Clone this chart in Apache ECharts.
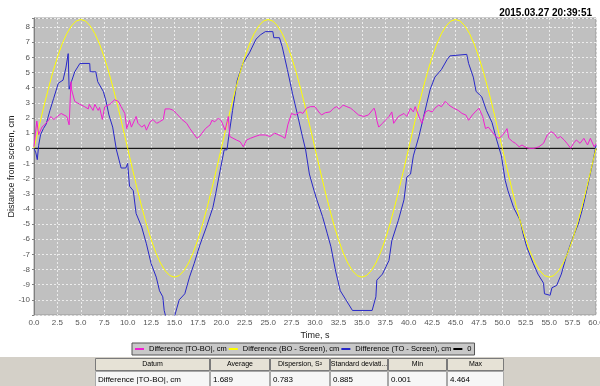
<!DOCTYPE html>
<html>
<head>
<meta charset="utf-8">
<script src="https://cdn.jsdelivr.net/npm/echarts@6/dist/echarts.min.js"></script>
<style>
html,body{margin:0;padding:0;background:#fff;}
#chart{width:600px;height:386px;}
</style>
</head>
<body>
<div id="chart"></div>
<script>
// ---- data ----
const titleText = '2015.03.27 20:39:51';
const seriesNames = ['Difference |TO-BO|, cm', 'Difference (BO - Screen), cm', 'Difference (TO - Screen), cm', '0'];

// Difference (BO - Screen): sampled every 0.5 s
const yellowStep = 0.5;
const yellowValues = [
  0,1.33,2.63,3.86,5.00,6.01,6.88,7.57,8.08,8.40,8.50,8.40,8.08,7.57,6.88,6.01,5.00,3.86,2.63,1.33,0,
  -1.33,-2.63,-3.86,-5.00,-6.01,-6.88,-7.57,-8.08,-8.40,-8.50,-8.40,-8.08,-7.57,-6.88,-6.01,-5.00,-3.86,-2.63,-1.33,0,
  1.33,2.63,3.86,5.00,6.01,6.88,7.57,8.08,8.40,8.50,8.40,8.08,7.57,6.88,6.01,5.00,3.86,2.63,1.33,0,
  -1.33,-2.63,-3.86,-5.00,-6.01,-6.88,-7.57,-8.08,-8.40,-8.50,-8.40,-8.08,-7.57,-6.88,-6.01,-5.00,-3.86,-2.63,-1.33,0,
  1.33,2.63,3.86,5.00,6.01,6.88,7.57,8.08,8.40,8.50,8.40,8.08,7.57,6.88,6.01,5.00,3.86,2.63,1.33,0,
  -1.33,-2.63,-3.86,-5.00,-6.01,-6.88,-7.57,-8.08,-8.40,-8.50,-8.40,-8.08,-7.57,-6.88,-6.01,-5.00,-3.86,-2.63,-1.33,0
];

// Difference (TO - Screen): [time s, cm]
const blueData = [
  [0,0.0],[0.2,-0.3],[0.35,-0.75],[0.5,0.2],[0.7,0.9],[1.0,1.3],[1.3,1.6],[1.7,2.5],[2.1,3.3],[2.6,4.3],[3.1,4.5],[3.4,5.3],[3.65,6.25],
  [3.75,3.9],[4.0,4.4],[4.35,5.05],[4.9,5.6],[5.95,5.6],[6.0,5.05],[6.6,5.05],[6.8,4.4],[7.4,3.75],[7.7,3.1],[8.0,2.2],[8.4,1.4],
  [8.8,-0.1],[9.3,-1.3],[9.8,-1.3],[10.0,-1.0],[10.2,-2.5],[10.6,-2.8],[10.9,-4.3],[11.5,-5.2],[12.0,-6.3],[12.5,-7.6],[13.05,-8.5],
  [13.4,-9.4],[13.75,-9.8],[13.9,-10.7],[14.1,-11.2],[14.5,-11.5],[15.0,-11.1],[15.5,-10.0],[16.1,-9.6],[16.6,-8.5],[17.1,-7.6],
  [17.7,-6.4],[18.4,-5.2],[19.1,-3.9],[19.4,-3.0],[19.8,-1.7],[20.3,-0.1],[20.6,-0.1],[20.8,0.8],[21.2,2.5],[21.7,4.5],[22.3,5.6],
  [23.0,6.3],[23.7,7.2],[24.2,7.5],[24.7,7.7],[25.5,7.7],[25.6,7.3],[26.2,7.3],[26.5,6.7],[27.05,5.2],[27.6,3.6],[28.1,2.3],
  [28.65,0.8],[29.0,-0.1],[29.4,-1.7],[29.9,-2.8],[30.2,-3.4],[30.8,-4.5],[31.3,-5.6],[31.7,-6.5],[32.2,-8.1],[32.7,-9.4],
  [33.3,-10.0],[34.0,-10.7],[36.1,-10.7],[36.5,-9.8],[36.6,-8.7],[37.2,-8.3],[37.9,-7.4],[38.2,-6.1],[38.9,-4.75],[39.5,-3.4],
  [39.8,-1.9],[40.2,-1.7],[40.5,-0.5],[41.1,0.8],[41.6,2.1],[42.3,3.9],[42.8,4.7],[43.5,5.2],[44.1,5.85],[44.4,6.1],[46.2,6.2],
  [46.4,5.6],[46.9,4.7],[47.2,3.75],[47.8,3.4],[48.3,2.5],[48.9,1.7],[49.4,0.55],[49.9,-0.5],[50.3,-2.1],[50.6,-2.8],[51.2,-3.9],
  [51.9,-4.75],[52.2,-5.6],[52.6,-6.5],[53.3,-7.6],[53.8,-8.3],[54.4,-8.9],[54.5,-9.6],[55.1,-9.7],[55.3,-9.2],[55.8,-9.05],
  [56.3,-8.3],[56.8,-7.2],[57.4,-6.1],[58.1,-5.0],[58.6,-3.9],[59.1,-2.5],[59.7,-0.8],[60.0,0.2]
];

// Difference |TO-BO|: [time s, cm]
const pinkData = [
  [0,0.1],[0.15,1.0],[0.3,1.8],[0.5,0.9],[0.85,1.4],[1.2,1.6],[1.56,1.85],[1.8,2.1],[2.1,1.9],[2.5,2.1],[2.9,2.3],[3.2,2.2],[3.5,2.1],
  [3.75,1.55],[3.85,1.6],[3.95,4.4],[4.0,3.9],[4.35,3.1],[4.9,2.9],[5.4,2.75],[5.8,2.6],[5.9,2.9],[6.3,2.5],[6.5,2.9],[6.85,2.5],
  [7.0,2.7],[7.3,1.9],[7.55,2.75],[8.1,2.9],[8.6,3.2],[9.0,3.1],[9.3,2.75],[9.7,2.3],[9.9,1.3],[10.2,1.85],[10.4,1.4],[10.9,2.1],
  [11.1,1.65],[11.5,1.4],[11.8,1.55],[12.0,1.2],[12.4,1.75],[12.7,1.9],[13.1,1.65],[13.4,1.75],[13.8,1.9],[14.0,2.6],[14.5,2.6],
  [14.9,2.5],[15.2,2.3],[15.8,1.9],[16.3,1.65],[16.65,1.3],[17.0,1.0],[17.4,0.66],[17.7,0.8],[18.3,1.3],[18.8,1.55],[19.0,1.85],
  [19.3,1.75],[19.7,2.0],[20.0,1.8],[20.4,1.2],[20.75,2.1],[20.9,0.78],[21.1,0.66],[21.6,0.55],[22.0,0.44],[22.35,0.1],[22.7,0.55],
  [23.1,0.66],[23.6,0.78],[24.1,0.88],[24.7,0.88],[25.2,0.78],[25.7,1.0],[26.5,0.78],[26.8,0.66],[27.1,1.55],[27.5,2.3],[27.9,2.2],
  [28.4,2.4],[28.7,2.3],[29.1,2.65],[29.5,2.75],[30.0,2.75],[30.4,2.4],[30.7,2.2],[31.1,2.35],[31.6,2.4],[32.0,2.65],[32.3,2.75],
  [32.6,2.6],[33.0,2.85],[33.4,2.75],[33.8,2.65],[34.1,2.5],[34.65,2.2],[35.2,2.1],[35.7,2.2],[36.3,2.65],[36.45,2.4],[36.6,1.85],
  [36.8,1.4],[37.2,1.65],[37.5,1.85],[37.9,2.1],[38.2,2.4],[38.4,1.65],[38.6,1.55],[38.9,2.1],[39.1,2.1],[39.5,2.3],[39.8,2.1],
  [40.2,2.65],[40.5,2.4],[40.7,2.75],[41.1,2.1],[41.4,1.65],[41.8,2.4],[42.1,2.5],[42.5,2.4],[42.8,2.65],[43.2,2.85],[43.5,2.75],
  [43.9,3.1],[44.1,3.2],[44.3,2.85],[44.5,2.95],[44.8,2.65],[45.3,2.5],[45.7,2.3],[46.1,2.2],[46.4,1.85],[46.8,2.2],[47.1,2.4],
  [47.5,2.65],[47.9,2.1],[48.2,1.3],[48.5,1.4],[48.9,1.1],[49.3,0.78],[49.6,0.66],[49.9,0.78],[50.3,1.1],[50.5,1.3],[50.7,0.66],
  [51.1,0.44],[51.4,0.33],[51.8,0.1],[52.1,0.22],[52.4,0.1],[52.8,0.0],[53.4,0.0],[53.9,0.1],[54.4,0.33],[54.8,0.88],[55.2,1.1],
  [55.5,1.0],[55.9,0.66],[56.2,0.78],[56.6,0.55],[56.9,0.33],[57.3,0.0],[57.6,0.33],[57.9,0.55],[58.3,0.33],[58.7,0.66],[59.1,0.22],
  [59.4,0.66],[59.8,0.1],[60.0,0.3]
];

const zeroData = [[0,0],[60,0]];

// statistics table
const tableHeaders = ['Datum', 'Average', 'Dispersion, S\u00B2', 'Standard deviati...', 'Min', 'Max'];
const tableRow = ['Difference |TO-BO|, cm', '1.689', '0.783', '0.885', '0.001', '4.464'];

// ---- chart ----
const FONT = 'Liberation Sans';
const yellowData = yellowValues.map((v, i) => [i * yellowStep, v]);
const colors = ['#f020d0', '#ffff00', '#2828c8', '#000000'];

// table layout (pixels)
const colEdges = [95, 210, 270, 330, 388, 447, 504];
const headTop = 358, headH = 13, rowH = 15;
const graphics = [];
graphics.push({type: 'rect', shape: {x: 0, y: 357, width: 600, height: 30}, style: {fill: '#d4d0c8'}, silent: true, z: 0});
for (let i = 0; i < tableHeaders.length; i++) {
  const x0 = colEdges[i], w = colEdges[i + 1] - colEdges[i];
  graphics.push({type: 'rect', shape: {x: x0 + 0.5, y: headTop + 0.5, width: w - 1, height: headH - 1},
    style: {fill: '#e6e2d6', stroke: '#7a7a7a', lineWidth: 1}, silent: true, z: 1});
  graphics.push({type: 'text', x: x0 + w / 2, y: headTop + headH / 2,
    style: {text: tableHeaders[i], fill: '#000', font: '7px "' + FONT + '"', align: 'center', verticalAlign: 'middle'}, silent: true, z: 2});
  graphics.push({type: 'rect', shape: {x: x0 + 0.5, y: headTop + headH + 0.5, width: w - 1, height: rowH},
    style: {fill: '#f6f6f6', stroke: '#a8a8a8', lineWidth: 1}, silent: true, z: 1});
  graphics.push({type: 'text', x: x0 + 3, y: headTop + headH + rowH / 2 + 1,
    style: {text: tableRow[i], fill: '#000', font: '8px "' + FONT + '"', align: 'left', verticalAlign: 'middle'}, silent: true, z: 2});
}

const chart = echarts.init(document.getElementById('chart'), null, {renderer: 'canvas'});
chart.setOption({
  animation: false,
  backgroundColor: '#ffffff',
  textStyle: {fontFamily: FONT},
  title: {
    text: titleText, right: 3, top: 3,
    textStyle: {fontFamily: FONT, fontSize: 10, fontWeight: 'bold', color: '#000'}
  },
  grid: {left: 34, right: 4, top: 18, bottom: 71, containLabel: false, outerBoundsMode: 'none',
    show: true, backgroundColor: '#c0c0c0', borderColor: '#9a9a9a', borderWidth: 1},
  legend: {
    left: 132, top: 343, icon: 'rect', itemWidth: 9, itemHeight: 2, itemGap: 2,
    padding: [2, 3], backgroundColor: '#c8c8c8', borderColor: '#555', borderWidth: 1,
    textStyle: {fontFamily: FONT, fontSize: 7.5, color: '#000'},
    data: seriesNames
  },
  xAxis: {
    type: 'value', min: 0, max: 60, interval: 2.5,
    name: 'Time, s', nameLocation: 'middle', nameGap: 16, nameMoveOverlap: false,
    nameTextStyle: {fontFamily: FONT, fontSize: 9, color: '#222'},
    axisLine: {lineStyle: {color: '#808080'}},
    axisTick: {show: true, length: 2, lineStyle: {color: '#808080'}},
    axisLabel: {fontFamily: FONT, fontSize: 8, color: '#555', margin: 4, formatter: v => v.toFixed(1)},
    splitLine: {show: true, lineStyle: {color: '#ececec', type: [2, 2], width: 1}}
  },
  yAxis: {
    type: 'value', min: -11, max: 8.6, interval: 1,
    name: 'Distance from screen, cm', nameLocation: 'middle', nameGap: 18, nameMoveOverlap: false,
    nameTextStyle: {fontFamily: FONT, fontSize: 9, color: '#222'},
    axisLine: {show: true, lineStyle: {color: '#808080'}},
    axisTick: {show: true, length: 2, lineStyle: {color: '#808080'}},
    axisLabel: {fontFamily: FONT, fontSize: 8, color: '#555', margin: 4,
      formatter: v => (Number.isInteger(v) && v >= -10 && v <= 8) ? String(v) : ''},
    splitLine: {show: true, lineStyle: {color: '#ececec', type: [2, 2], width: 1}}
  },
  series: [
    {name: seriesNames[3], type: 'line', data: zeroData, showSymbol: false, z: 2,
      lineStyle: {color: colors[3], width: 1}, itemStyle: {color: colors[3]}},
    {name: seriesNames[2], type: 'line', data: blueData, showSymbol: false, z: 3,
      lineStyle: {color: colors[2], width: 1}, itemStyle: {color: colors[2]}},
    {name: seriesNames[1], type: 'line', data: yellowData, showSymbol: false, z: 4,
      lineStyle: {color: colors[1], width: 1}, itemStyle: {color: colors[1]}},
    {name: seriesNames[0], type: 'line', data: pinkData, showSymbol: false, z: 5,
      lineStyle: {color: colors[0], width: 1}, itemStyle: {color: colors[0]}}
  ],
  graphic: graphics
});
</script>
</body>
</html>
